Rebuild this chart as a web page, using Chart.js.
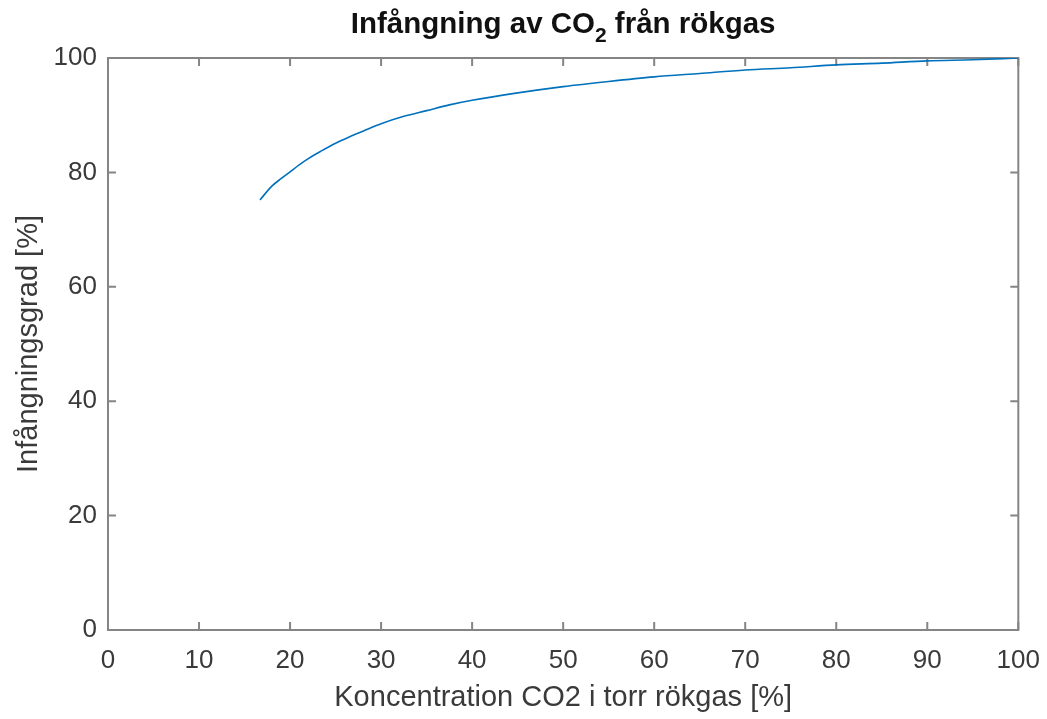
<!DOCTYPE html>
<html>
<head>
<meta charset="utf-8">
<title>Infångning av CO2 från rökgas</title>
<script src="https://cdn.jsdelivr.net/npm/chart.js@4.4.1/dist/chart.umd.min.js"></script>
<style>
  html, body { margin: 0; padding: 0; background: #fff; }
  #wrap { width: 1047px; height: 719px; }
</style>
</head>
<body>
<div id="wrap"><canvas id="chart" width="1047" height="719"></canvas></div>
<script>
// CO2 concentration in dry flue gas [%] and capture rate [%]
const concentration = [16.7, 18, 19, 20, 21, 22, 23.5, 25, 26.5, 28, 30, 32.5, 35, 37.5, 40, 45, 50, 55, 60, 65, 70, 75, 80, 85, 90, 95, 100];
const captureRate   = [75.2, 77.6, 78.9, 80.1, 81.3, 82.4, 83.8, 85.1, 86.2, 87.2, 88.5, 89.8, 90.8, 91.8, 92.6, 93.9, 95.0, 95.9, 96.7, 97.3, 97.9, 98.3, 98.8, 99.1, 99.5, 99.7, 100.0];

const xTicks = [0, 10, 20, 30, 40, 50, 60, 70, 80, 90, 100];
const yTicks = [0, 20, 40, 60, 80, 100];

const titleParts = { before: 'Infångning av CO', sub: '2', after: ' från rökgas' };
const xLabel = 'Koncentration CO2 i torr rökgas [%]';
const yLabel = 'Infångningsgrad [%]';

const FONT = '"Liberation Sans", Arial, Helvetica, sans-serif';
const AXIS_COLOR = '#858585';
const TEXT_COLOR = '#3a3a3a';
const TICK_LEN = 8;

// Title with a subscript 2 in CO2
const titlePlugin = {
    id: 'subTitle',
    afterDraw(chart) {
        const ctx = chart.ctx;
        const area = chart.chartArea;
        const big = 'bold 29.5px ' + FONT;
        const small = 'bold 21px ' + FONT;
        ctx.save();
        ctx.fillStyle = '#111';
        ctx.textBaseline = 'alphabetic';
        ctx.font = big;
        const w1 = ctx.measureText(titleParts.before).width;
        const w3 = ctx.measureText(titleParts.after).width;
        ctx.font = small;
        const w2 = ctx.measureText(titleParts.sub).width;
        let x = (area.left + area.right) / 2 - (w1 + w2 + w3) / 2;
        const base = 33;
        ctx.font = big;
        ctx.fillText(titleParts.before, x, base);
        x += w1;
        ctx.font = small;
        ctx.fillText(titleParts.sub, x, base + 9);
        x += w2;
        ctx.font = big;
        ctx.fillText(titleParts.after, x, base);
        ctx.restore();
    }
};

// Box around the axes with inward ticks on all four sides
const boxPlugin = {
    id: 'axesBox',
    beforeDatasetsDraw(chart) {
        const ctx = chart.ctx;
        const { left, right, top, bottom } = chart.chartArea;
        const xs = chart.scales.x;
        const ys = chart.scales.y;
        ctx.save();
        ctx.strokeStyle = AXIS_COLOR;
        ctx.lineWidth = 2;
        ctx.beginPath();
        xTicks.forEach(v => {
            const px = xs.getPixelForValue(v);
            ctx.moveTo(px, bottom); ctx.lineTo(px, bottom - TICK_LEN);
            ctx.moveTo(px, top); ctx.lineTo(px, top + TICK_LEN);
        });
        yTicks.forEach(v => {
            const py = ys.getPixelForValue(v);
            ctx.moveTo(left, py); ctx.lineTo(left + TICK_LEN, py);
            ctx.moveTo(right, py); ctx.lineTo(right - TICK_LEN, py);
        });
        ctx.stroke();
        ctx.strokeRect(left, top, right - left, bottom - top);
        ctx.restore();
    }
};

new Chart(document.getElementById('chart'), {
    type: 'line',
    data: {
        datasets: [{
            data: concentration.map((c, i) => ({ x: c, y: captureRate[i] })),
            borderColor: '#0072BD',
            borderWidth: 1.6,
            pointRadius: 0,
            cubicInterpolationMode: 'monotone',
            fill: false
        }]
    },
    options: {
        responsive: false,
        animation: false,
        layout: { padding: { top: 58, right: 28, bottom: 0, left: 0 } },
        plugins: {
            legend: { display: false },
            tooltip: { enabled: false }
        },
        scales: {
            x: {
                type: 'linear',
                min: 0,
                max: 100,
                afterBuildTicks(scale) { scale.ticks = xTicks.map(v => ({ value: v })); },
                afterFit(scale) { scale.height = 89; },
                grid: { display: false },
                border: { display: false },
                ticks: { color: TEXT_COLOR, padding: 7, font: { family: FONT, size: 26 } },
                title: {
                    display: true,
                    text: xLabel,
                    color: TEXT_COLOR,
                    padding: { top: 0, bottom: 4 },
                    font: { family: FONT, size: 29 }
                }
            },
            y: {
                type: 'linear',
                min: 0,
                max: 100,
                afterBuildTicks(scale) { scale.ticks = yTicks.map(v => ({ value: v })); },
                afterFit(scale) { scale.width = 108; },
                grid: { display: false },
                border: { display: false },
                ticks: { color: TEXT_COLOR, padding: 3, font: { family: FONT, size: 26 } },
                title: {
                    display: true,
                    text: yLabel,
                    color: TEXT_COLOR,
                    padding: { top: 12, bottom: 0 },
                    font: { family: FONT, size: 29 }
                }
            }
        }
    },
    plugins: [boxPlugin, titlePlugin]
});
</script>
</body>
</html>
